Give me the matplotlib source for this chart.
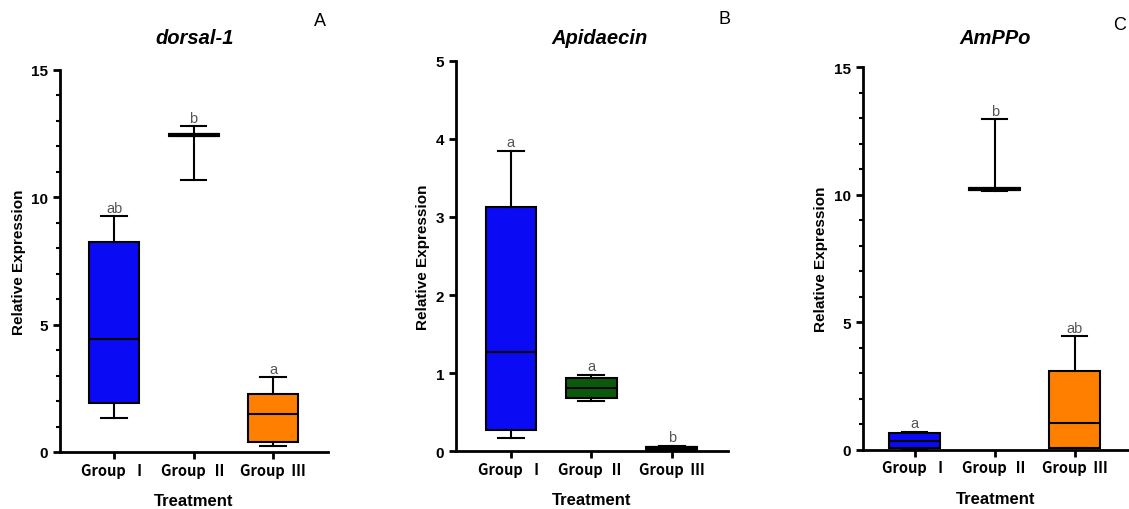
import numpy as np
import matplotlib.pyplot as plt
from matplotlib.ticker import MultipleLocator

plt.rcParams["font.family"] = ["Liberation Sans", "DejaVu Sans"]

groups = ["Group  Ⅰ", "Group  Ⅱ", "Group  Ⅲ"]

# box stats per gene: whisker low, q1, median, q3, whisker high
dorsal_low = [1.32, 10.7, 0.23]
dorsal_q1 = [1.91, 12.42, 0.40]
dorsal_med = [4.44, 12.46, 1.48]
dorsal_q3 = [8.24, 12.50, 2.28]
dorsal_high = [9.26, 12.8, 2.94]
dorsal_letters = ["ab", "b", "a"]

apid_low = [0.17, 0.65, 0.01]
apid_q1 = [0.276, 0.68, 0.02]
apid_med = [1.275, 0.81, 0.04]
apid_q3 = [3.13, 0.94, 0.06]
apid_high = [3.85, 0.98, 0.07]
apid_letters = ["a", "a", "b"]

ppo_low = [0.02, 10.15, 0.05]
ppo_q1 = [0.05, 10.17, 0.07]
ppo_med = [0.33, 10.22, 1.03]
ppo_q3 = [0.65, 10.25, 3.07]
ppo_high = [0.70, 12.96, 4.45]
ppo_letters = ["a", "b", "ab"]

colors_A = ["#0A0AF5", "white", "#FF8000"]
colors_B = ["#0A0AF5", "#0B5A0B", "#000000"]
colors_C = ["#0A0AF5", "white", "#FF8000"]

label_font = ["Noto Sans CJK SC", "DejaVu Sans"]

fig = plt.figure(figsize=(11.29, 5.10), dpi=100)


def draw_panel(rect, title, title_x, letter, letter_xy, lows, q1s, meds, q3s,
               highs, letters, colors, ymax, major, minor, xlim):
    ax = fig.add_axes(rect)
    stats = []
    for i in range(3):
        stats.append({"whislo": lows[i], "q1": q1s[i], "med": meds[i],
                      "q3": q3s[i], "whishi": highs[i], "fliers": []})
    b = ax.bxp(stats, positions=[1, 2, 3], widths=0.63, patch_artist=True,
               showfliers=False,
               boxprops=dict(linewidth=1.5, edgecolor="black"),
               medianprops=dict(color="black", linewidth=1.5),
               whiskerprops=dict(color="black", linewidth=1.5),
               capprops=dict(color="black", linewidth=1.5),
               capwidths=0.32)
    for patch, c in zip(b["boxes"], colors):
        patch.set_facecolor(c)
    # thin boxes (q1 ~ q3) drawn as a thick bar
    for i in range(3):
        if q3s[i] - q1s[i] < ymax * 0.012:
            b["medians"][i].set_linewidth(3)
    for i in range(3):
        ax.annotate(letters[i], (i + 1, highs[i]), xytext=(0, 1),
                    textcoords="offset points", ha="center", va="bottom",
                    fontsize=10.5, color="#555555")

    ax.set_xlim(*xlim)
    ax.set_ylim(0, ymax)
    ax.set_yticks(np.arange(0, ymax + 0.1, major))
    if minor:
        ax.yaxis.set_minor_locator(MultipleLocator(minor))
    ax.set_yticklabels([f"{v:g}" for v in np.arange(0, ymax + 0.1, major)],
                       fontweight="bold", fontsize=11)
    ax.set_xticks([1, 2, 3])
    ax.set_xticklabels(groups, family=label_font, fontweight="bold", fontsize=10.5)
    ax.spines["top"].set_visible(False)
    ax.spines["right"].set_visible(False)
    ax.spines["left"].set_linewidth(2)
    ax.spines["bottom"].set_linewidth(2)
    ax.tick_params(axis="both", which="major", width=2, length=5)
    ax.tick_params(axis="y", which="minor", width=1.5, length=3)
    ax.tick_params(axis="x", pad=2)
    ax.set_ylabel("Relative Expression", fontweight="bold", fontsize=11,
                  labelpad=4)
    ax.set_xlabel("Treatment", fontweight="bold", fontsize=12, labelpad=11)
    fig.text(title_x, 1 - 39 / 510, title, fontweight="bold",
             fontstyle="italic", fontsize=14.5, ha="center", va="center")
    fig.text(letter_xy[0], letter_xy[1], letter, fontsize=13, ha="center",
             va="center")
    return ax


draw_panel([60 / 1129, 1 - 453 / 510, 268 / 1129, 382 / 510], "dorsal-1",
           195 / 1129, "A", (320 / 1129, 1 - 22 / 510), dorsal_low, dorsal_q1,
           dorsal_med, dorsal_q3, dorsal_high, dorsal_letters, colors_A,
           15, 5, 1, (0.32, 3.69))
draw_panel([456 / 1129, 1 - 452.3 / 510, 272 / 1129, 390.6 / 510], "Apidaecin",
           600 / 1129, "B", (725 / 1129, 1 - 20 / 510), apid_low, apid_q1,
           apid_med, apid_q3, apid_high, apid_letters, colors_B,
           5, 1, None, (0.317, 3.70))
draw_panel([862.7 / 1129, 1 - 450.7 / 510, 266.3 / 1129, 382.4 / 510], "AmPPo",
           995 / 1129, "C", (1120 / 1129, 1 - 25 / 510), ppo_low, ppo_q1,
           ppo_med, ppo_q3, ppo_high, ppo_letters, colors_C,
           15, 5, 1, (0.35, 3.68))

fig.savefig("out.png", dpi=100)
